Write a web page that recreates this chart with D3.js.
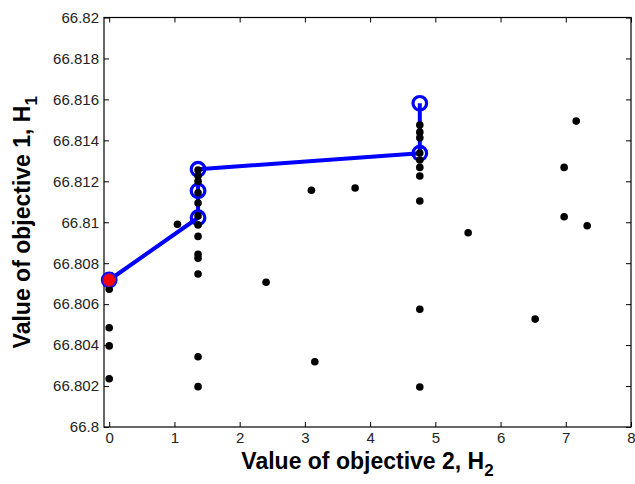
<!DOCTYPE html>
<html>
<head>
<meta charset="utf-8">
<script src="https://cdn.jsdelivr.net/npm/d3@7/dist/d3.min.js"></script>
<style>
  html, body { margin: 0; padding: 0; background: #fff; }
  svg { display: block; }
</style>
</head>
<body>
<svg id="chart" width="635" height="484"></svg>
<script>
// ---- data ----
const xTicks = [0, 1, 2, 3, 4, 5, 6, 7, 8];
const xTickLabels = ["0", "1", "2", "3", "4", "5", "6", "7", "8"];
const yTicks = [66.8, 66.802, 66.804, 66.806, 66.808, 66.81, 66.812, 66.814, 66.816, 66.818, 66.82];
const yTickLabels = ["66.8", "66.802", "66.804", "66.806", "66.808", "66.81", "66.812", "66.814", "66.816", "66.818", "66.82"];

// all evaluated solutions (black dots)
const pointsX = [
  0, 0, 0, 0,
  1.362, 1.362, 1.362, 1.362, 1.362, 1.362, 1.362, 1.362, 1.362, 1.362, 1.362, 1.362, 1.362,
  1.046,
  4.762, 4.762, 4.762, 4.762, 4.762, 4.762, 4.762, 4.762, 4.762, 4.762,
  2.405, 3.152, 3.10, 3.77, 5.503, 6.531, 6.975, 6.975, 7.16, 7.328
];
const pointsY = [
  66.80673, 66.80485, 66.80396, 66.80236,
  66.81255, 66.81226, 66.81144, 66.81094, 66.81031, 66.80987, 66.80931, 66.80843, 66.80824, 66.80747, 66.80343, 66.80197, 66.81200,
  66.80990,
  66.81475, 66.81440, 66.81413, 66.81338, 66.81304, 66.81268, 66.81226, 66.81104, 66.80575, 66.80195,
  66.80707, 66.80319, 66.81156, 66.81167, 66.80949, 66.80527, 66.81268, 66.81027, 66.81494, 66.80983
];

// Pareto front (blue line with open circles)
const paretoX = [0, 1.362, 1.362, 1.362, 4.762, 4.762];
const paretoY = [66.80718, 66.81022, 66.81153, 66.81259, 66.81337, 66.81581];

// selected solution (red)
const bestX = [0];
const bestY = [66.80718];

// ---- layout ----
const svg = d3.select("#chart");
const L = 104, R = 631, T = 17.5, B = 427;
const x = d3.scaleLinear().domain([-0.08, 8]).range([L, R]);
const y = d3.scaleLinear().domain([66.8, 66.82]).range([B, T]);
const tickFont = "'Liberation Sans', Arial, Helvetica, sans-serif";

// axes
const gB = svg.append("g").attr("transform", `translate(0,${B})`)
  .call(d3.axisBottom(x).tickValues(xTicks).tickFormat((d, i) => xTickLabels[i])
    .tickSizeInner(-5).tickSizeOuter(0).tickPadding(5));
const gT = svg.append("g").attr("transform", `translate(0,${T})`)
  .call(d3.axisTop(x).tickValues(xTicks).tickFormat("")
    .tickSizeInner(-5).tickSizeOuter(0));
const gL = svg.append("g").attr("transform", `translate(${L},0)`)
  .call(d3.axisLeft(y).tickValues(yTicks).tickFormat((d, i) => yTickLabels[i])
    .tickSizeInner(-5).tickSizeOuter(0).tickPadding(5));
const gR = svg.append("g").attr("transform", `translate(${R},0)`)
  .call(d3.axisRight(y).tickValues(yTicks).tickFormat("")
    .tickSizeInner(-5).tickSizeOuter(0));

[gB, gT, gL, gR].forEach(g => {
  g.select(".domain").remove();
  g.selectAll(".tick line").attr("stroke", "#000").attr("stroke-width", 1);
  g.selectAll(".tick text").attr("fill", "#222")
    .style("font-family", tickFont).style("font-size", "15px");
});

// box
svg.append("rect")
  .attr("x", L).attr("y", T).attr("width", R - L).attr("height", B - T)
  .attr("fill", "none").attr("stroke", "#000").attr("stroke-width", 1.2);

// pareto line
const pareto = paretoX.map((v, i) => [v, paretoY[i]]);
svg.append("path")
  .datum(pareto)
  .attr("d", d3.line().x(d => x(d[0])).y(d => y(d[1])))
  .attr("fill", "none").attr("stroke", "#0000ff").attr("stroke-width", 4)
  .attr("stroke-linejoin", "round");

// pareto circles
svg.append("g").selectAll("circle")
  .data(pareto)
  .join("circle")
  .attr("cx", d => x(d[0])).attr("cy", d => y(d[1])).attr("r", 6.8)
  .attr("fill", "none").attr("stroke", "#0000ff").attr("stroke-width", 3.2);

// black dots
svg.append("g").selectAll("circle")
  .data(pointsX.map((v, i) => [v, pointsY[i]]))
  .join("circle")
  .attr("cx", d => x(d[0])).attr("cy", d => y(d[1])).attr("r", 3.8)
  .attr("fill", "#000");

// red best
svg.append("g").selectAll("circle")
  .data(bestX.map((v, i) => [v, bestY[i]]))
  .join("circle")
  .attr("cx", d => x(d[0])).attr("cy", d => y(d[1])).attr("r", 6.5)
  .attr("fill", "#ff0000").attr("stroke", "#5a1ab0").attr("stroke-width", 1.2);

// axis labels
const labFont = "'Liberation Sans', Arial, Helvetica, sans-serif";
const xl = svg.append("text")
  .attr("x", (L + R) / 2).attr("y", 469)
  .attr("text-anchor", "middle")
  .style("font-family", labFont).style("font-size", "23px").style("font-weight", "bold")
  .attr("fill", "#000");
xl.append("tspan").text("Value of objective 2, H");
xl.append("tspan").text("2").attr("dy", 7).style("font-size", "17px");

const yl = svg.append("text")
  .attr("transform", `translate(30,${(T + B) / 2}) rotate(-90)`)
  .attr("text-anchor", "middle")
  .style("font-family", labFont).style("font-size", "23px").style("font-weight", "bold")
  .attr("fill", "#000");
yl.append("tspan").text("Value of objective 1, H");
yl.append("tspan").text("1").attr("dy", 7).style("font-size", "17px");
</script>
</body>
</html>
